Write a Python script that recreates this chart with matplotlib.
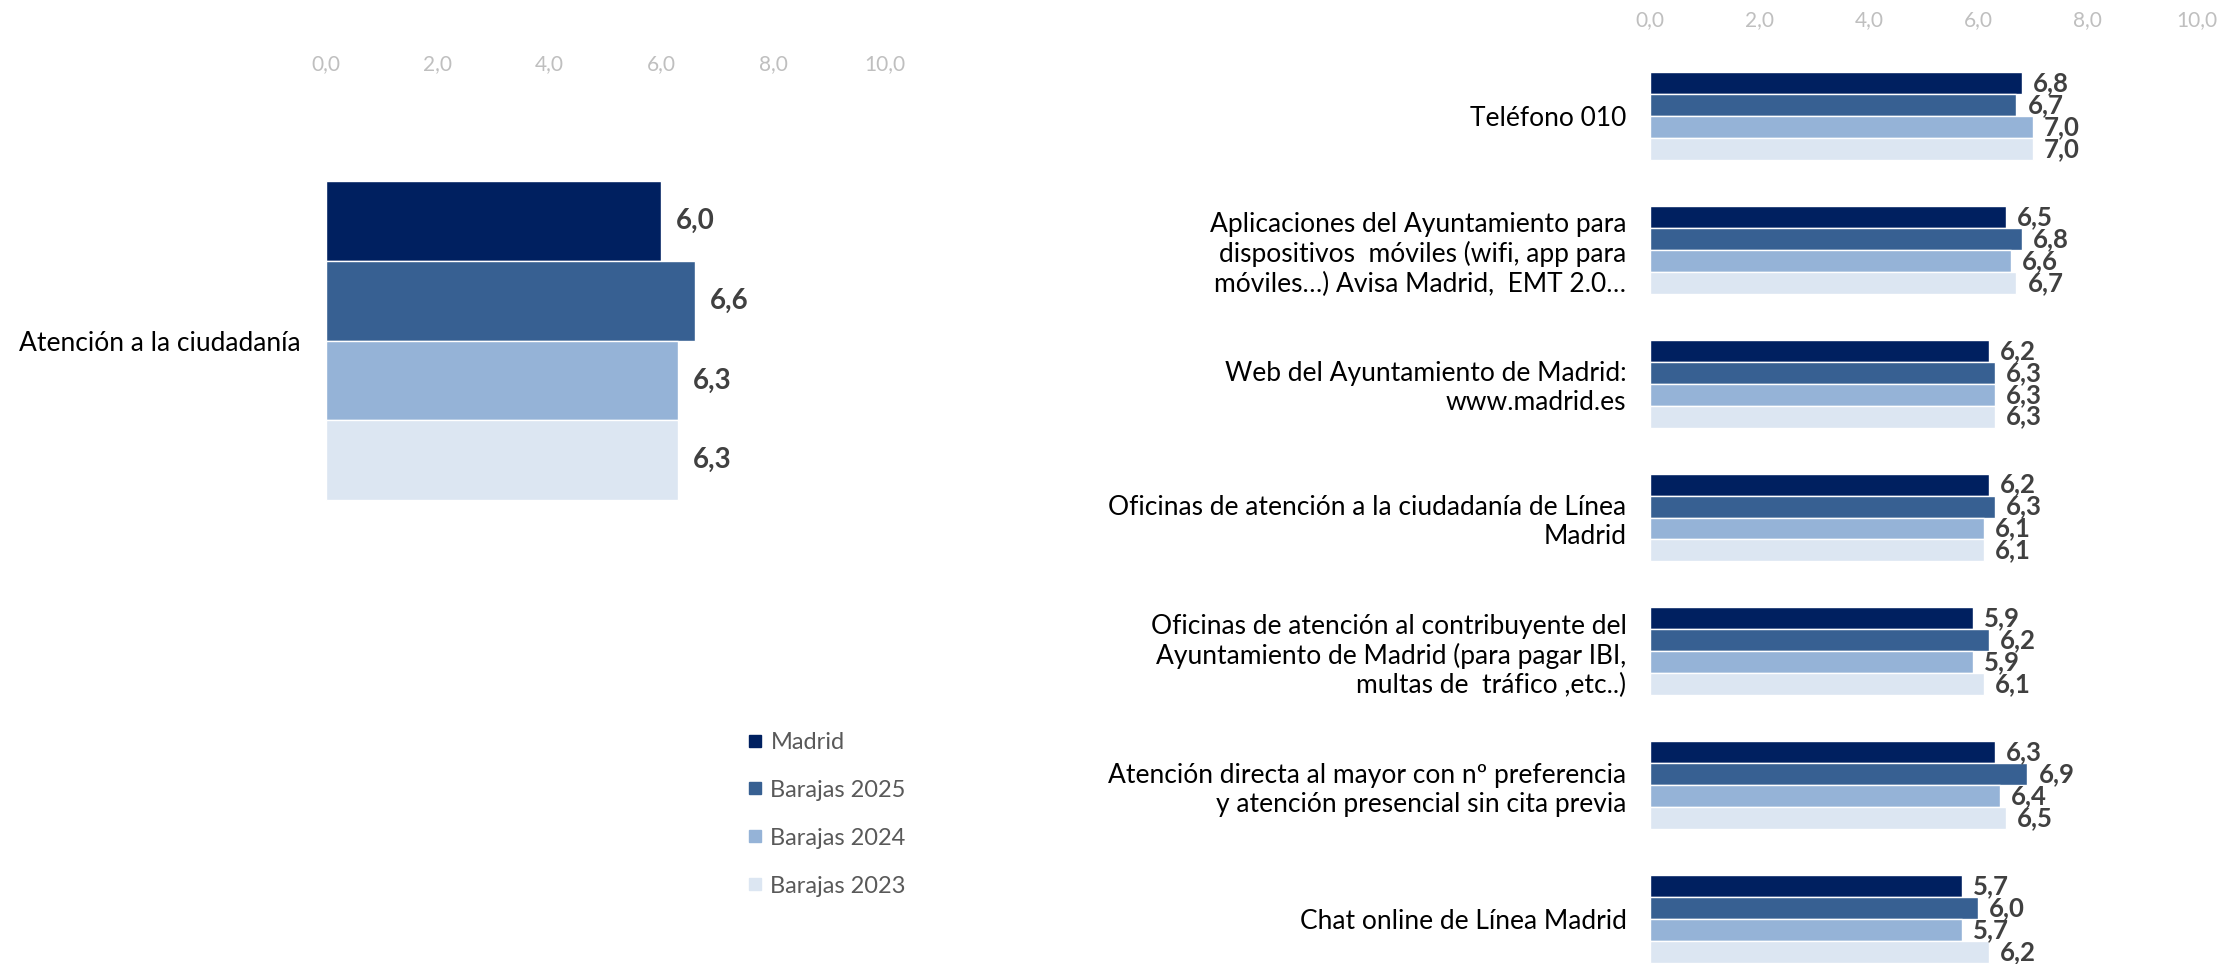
import matplotlib
matplotlib.use("Agg")
import matplotlib.pyplot as plt
from matplotlib.lines import Line2D
import numpy as np

plt.rcParams['font.family'] = ['Lato', 'DejaVu Sans']

series = ["Madrid", "Barajas 2025", "Barajas 2024", "Barajas 2023"]
colors = ["#002060", "#376092", "#95B3D7", "#DCE6F2"]

left_categories = ["Atención a la ciudadanía"]
left_values = {
    "Madrid": [6.0],
    "Barajas 2025": [6.6],
    "Barajas 2024": [6.3],
    "Barajas 2023": [6.3],
}

right_categories = [
    "Teléfono 010",
    "Aplicaciones del Ayuntamiento para\ndispositivos  móviles (wifi, app para\nmóviles…) Avisa Madrid,  EMT 2.0…",
    "Web del Ayuntamiento de Madrid:\nwww.madrid.es",
    "Oficinas de atención a la ciudadanía de Línea\nMadrid",
    "Oficinas de atención al contribuyente del\nAyuntamiento de Madrid (para pagar IBI,\nmultas de  tráfico ,etc..)",
    "Atención directa al mayor con nº preferencia\ny atención presencial sin cita previa",
    "Chat online de Línea Madrid",
]
right_values = {
    "Madrid":       [6.8, 6.5, 6.2, 6.2, 5.9, 6.3, 5.7],
    "Barajas 2025": [6.7, 6.8, 6.3, 6.3, 6.2, 6.9, 6.0],
    "Barajas 2024": [7.0, 6.6, 6.3, 6.1, 5.9, 6.4, 5.7],
    "Barajas 2023": [7.0, 6.7, 6.3, 6.1, 6.1, 6.5, 6.2],
}

xticks = [0, 2, 4, 6, 8, 10]
xtick_labels = ["0,0", "2,0", "4,0", "6,0", "8,0", "10,0"]

W, H = 2221, 964
fig = plt.figure(figsize=(W / 100, H / 100), dpi=100)

def fmt(v):
    return f"{v:.1f}".replace(".", ",")

def draw(ax, cats, vals, bar_h, label_size, label_off, tick_pad, cat_pad, cat_size):
    n = len(series)
    pos = np.arange(len(cats))
    for i, s in enumerate(series):
        y = pos - (n - 1) / 2 * bar_h + i * bar_h
        bars = ax.barh(y, vals[s], height=bar_h, color=colors[i],
                       edgecolor="white", linewidth=1.0)
        for b, v in zip(bars, vals[s]):
            ax.annotate(fmt(v), (b.get_width(), b.get_y() + b.get_height() / 2),
                        xytext=(label_off, 0), textcoords="offset points",
                        va="center", ha="left", fontsize=label_size,
                        fontweight="bold", color="#404040")
    ax.set_xlim(0, 10)
    ax.xaxis.tick_top()
    ax.set_xticks(xticks)
    ax.set_xticklabels(xtick_labels)
    ax.tick_params(axis="x", length=0, pad=tick_pad, labelsize=15, labelcolor="#BFBFBF")
    ax.set_yticks(pos)
    ax.set_yticklabels(cats, fontsize=cat_size, color="#000000", ha="right",
                       multialignment="right", linespacing=1.2)
    ax.tick_params(axis="y", length=0, pad=cat_pad)
    for sp in ax.spines.values():
        sp.set_visible(False)

# Left chart
axL = fig.add_axes([326 / W, 1 - 520 / H, (885 - 326) / W, (520 - 85) / H])
draw(axL, left_categories, left_values, 0.2, 20, 10.5, 8, 18.5, 19)
axL.set_ylim(0.450, -0.641)

# Right chart
axR = fig.add_axes([1650 / W, 0, (2197 - 1650) / W, (964 - 40) / H])
draw(axR, right_categories, right_values, 0.164, 18.5, 8, 7, 17, 19)
axR.set_ylim(6.336, -0.568)

# Legend
handles = [Line2D([0], [0], marker="s", linestyle="none", markersize=9,
                  markerfacecolor=c, markeredgecolor=c) for c in colors]
leg = fig.legend(handles, series, loc="upper left",
                 bbox_to_anchor=(735 / W, 1 - 720 / H), frameon=False,
                 fontsize=17, labelspacing=1.14, handlelength=0.7,
                 handletextpad=0.3, borderpad=0)
for t in leg.get_texts():
    t.set_color("#595959")

fig.savefig("out.png", dpi=100)
